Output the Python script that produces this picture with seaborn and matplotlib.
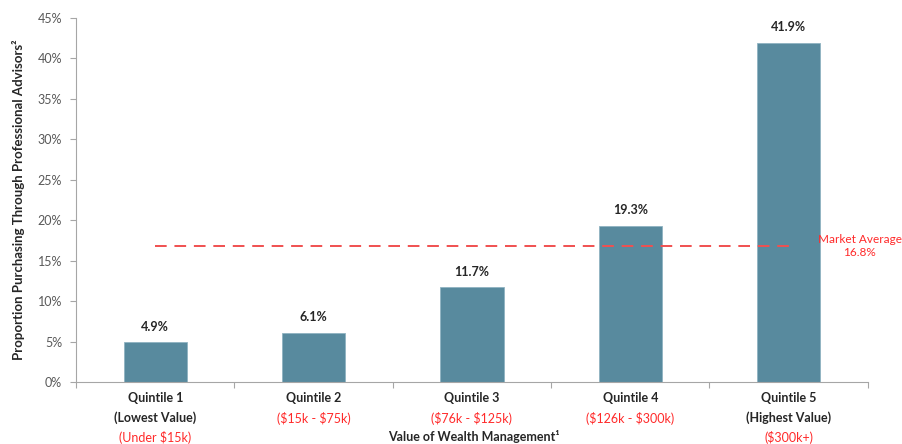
import matplotlib
matplotlib.use("Agg")
import matplotlib.pyplot as plt
import matplotlib.transforms as mtransforms
import seaborn as sns
import pandas as pd

categories = ["Quintile 1", "Quintile 2", "Quintile 3", "Quintile 4", "Quintile 5"]
subtitles = ["(Lowest Value)", "", "", "", "(Highest Value)"]
ranges = ["(Under \\$15k)", "(\\$15k - \\$75k)", "(\\$76k - \\$125k)",
          "(\\$126k - \\$300k)", "(\\$300k+)"]
values = [4.9, 6.1, 11.7, 19.3, 41.9]
market_average = 16.8
y_ticks = [0, 5, 10, 15, 20, 25, 30, 35, 40, 45]

sns.set_theme(style="white")
plt.rcParams["font.family"] = ["Lato", "DejaVu Sans"]

df = pd.DataFrame({"category": categories, "value": values})

fig = plt.figure(figsize=(9.03, 4.44), dpi=100)
ax = fig.add_axes([0.0842, 0.1396, 0.8768, 0.8199])

bar_color = "#588a9e"
sns.barplot(data=df, x="category", y="value", color=bar_color, width=0.4,
            saturation=1, edgecolor="#8fb3c2", linewidth=0.6, ax=ax, zorder=2)

ax.set_xlim(-0.5, len(categories) - 0.5)
ax.set_ylim(0, 45)
ax.set_yticks(y_ticks)
ax.set_yticklabels([f"{t}%" for t in y_ticks], fontsize=9, color="#595959")

# category boundary ticks below the x axis
ax.set_xticks([i - 0.5 for i in range(len(categories) + 1)])
ax.set_xticklabels([])
ax.tick_params(axis="x", which="both", bottom=True, length=4, width=0.8, color="#a6a6a6")
ax.tick_params(axis="y", left=True, length=4, width=0.8, color="#a6a6a6", pad=6)

for side in ["top", "right"]:
    ax.spines[side].set_visible(False)
for side in ["left", "bottom"]:
    ax.spines[side].set_color("#a6a6a6")
    ax.spines[side].set_linewidth(0.8)

ax.set_xlabel("")
ax.set_ylabel("")

# value labels above bars
for i, v in enumerate(values):
    ax.text(i, v + 1.2, f"{v}%", ha="center", va="bottom", fontsize=9,
            fontweight="bold", color="#262626")

# multi-line category labels
trans = mtransforms.blended_transform_factory(ax.transData, ax.transAxes)
for i, (cat, sub, rng) in enumerate(zip(categories, subtitles, ranges)):
    ax.text(i, -0.045, cat, transform=trans, ha="center", va="center",
            fontsize=9, fontweight="bold", color="#262626")
    y_next = -0.099
    if sub:
        ax.text(i, y_next, sub, transform=trans, ha="center", va="center",
                fontsize=9, fontweight="bold", color="#262626")
        y_next = -0.153
    ax.text(i, y_next, rng, transform=trans, ha="center", va="center",
            fontsize=9, color="#ff2a2a")

# market average reference line
ax.plot([0, len(categories) - 1], [market_average, market_average],
        linestyle=(0, (6, 4)), color="#f05050", linewidth=1.4, zorder=3)
ax.annotate(f"Market Average\n{market_average}%", xy=(4.45, market_average),
            xycoords="data", ha="center", va="center", fontsize=8.5,
            color="#ff2a2a", linespacing=1.3, annotation_clip=False)

fig.text(0.525, 0.016, "Value of Wealth Management\u00b9", ha="center",
         va="center", fontsize=9, fontweight="bold", color="#262626")
fig.text(0.02, 0.55, "Proportion Purchasing Through Professional Advisors\u00b2",
         rotation=90, ha="center", va="center", fontsize=9.5, fontweight="bold",
         color="#262626")

fig.savefig("out.png", dpi=100)
